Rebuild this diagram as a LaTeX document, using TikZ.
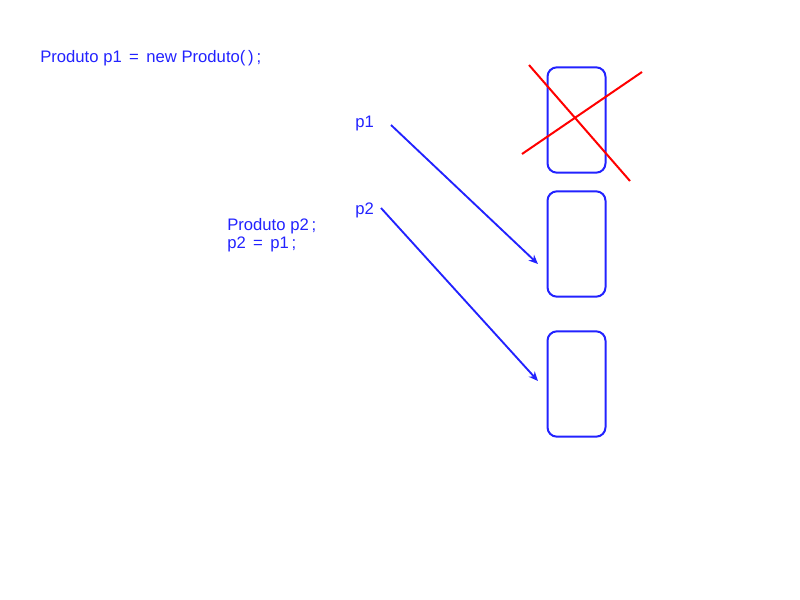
\documentclass[tikz,border=0pt]{standalone}
\usepackage{fontspec}
\setmainfont{Liberation Sans}
\usetikzlibrary{positioning,arrows.meta}

\definecolor{refblue}{RGB}{34,34,255}

\tikzset{
  objbox/.style={draw=refblue,line width=1.5pt,rounded corners=7pt,minimum width=43.5pt,minimum height=79pt,inner sep=0pt},
  code/.style={text=refblue,anchor=west,inner sep=0pt,font=\fontsize{12.5}{13.5}\selectfont},
  refarrow/.style={refblue,line width=1.4pt,-{Stealth[length=7pt,width=6pt]}},
  cross/.style={red,line width=1.5pt}
}

\begin{document}
\begin{tikzpicture}[x=0.75pt,y=-0.75pt]
\useasboundingbox (0,0) rectangle (800,600);

% Boxes
\node[objbox] (obj1) at (576.5,120) {};
\node[objbox] (obj2) at (576.5,244) {};
\node[objbox] (obj3) at (576.5,384) {};

% Code
\node[code] (decl1) at (40,58) {Produto p1 \,=\, new Produto(\,)\,;};
\node[code] (p1) at (355,123) {p1};
\node[code] (p2) at (355,210) {p2};
\node[code,align=left] (decl2) at (227,235) {Produto p2\,;\\p2 \,=\, p1\,;};

% Arrows
\coordinate (p1start) at (391,125);
\coordinate (p1end) at (538,264);
\coordinate (p2start) at (381,208);
\coordinate (p2end) at (538,381);
\draw[refarrow] (p1start) -- (p1end);
\draw[refarrow] (p2start) -- (p2end);

% Cross
\coordinate (crossA) at (529,65);
\coordinate (crossB) at (630,181);
\coordinate (crossC) at (522,154);
\coordinate (crossD) at (642,72);
\draw[cross] (crossA) -- (crossB);
\draw[cross] (crossC) -- (crossD);

\end{tikzpicture}
\end{document}
